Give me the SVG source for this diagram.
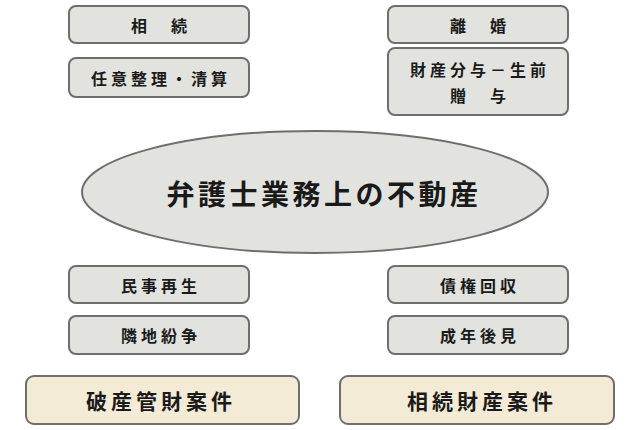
<svg xmlns="http://www.w3.org/2000/svg" width="630" height="430" viewBox="0 0 630 430">
<style>
.box{fill:#e2e3df;stroke:#6e6e6e;stroke-width:2}
.big{fill:#f4ebd6;stroke:#6e6e6e;stroke-width:2}
text{font-family:"Noto Sans CJK JP","Noto Sans CJK SC",sans-serif;font-weight:bold;fill:#1a1a1a;text-anchor:middle;dominant-baseline:central}
.s{font-size:16px;letter-spacing:4px}
.b{font-size:21px;letter-spacing:4px}
.e{font-size:28px;letter-spacing:3.5px}
</style>
<rect width="630" height="430" fill="#ffffff"/>
<g id="connectors"></g>
<g id="n-souzoku"><rect class="box" x="69" y="6" width="180" height="37" rx="7"/><text class="s" x="161" y="25">相　続</text></g>
<g id="n-nini"><rect class="box" x="69" y="58" width="180" height="39" rx="7"/><text class="s" x="161" y="78">任意整理・清算</text></g>
<g id="n-rikon"><rect class="box" x="388" y="6" width="180" height="37" rx="7"/><text class="s" x="480" y="25">離　婚</text></g>
<g id="n-zaisan"><rect class="box" x="388" y="48" width="180" height="67" rx="7"/><text class="s" x="480" y="69">財産分与－生前</text><text class="s" x="480" y="95">贈　与</text></g>
<g id="n-center"><ellipse class="box" cx="315" cy="192" rx="233" ry="61"/><text class="e" x="324" y="193">弁護士業務上の不動産</text></g>
<g id="n-minji"><rect class="box" x="69" y="266" width="180" height="37" rx="7"/><text class="s" x="161" y="285">民事再生</text></g>
<g id="n-rinchi"><rect class="box" x="69" y="316" width="180" height="38" rx="7"/><text class="s" x="161" y="335">隣地紛争</text></g>
<g id="n-saiken"><rect class="box" x="388" y="266" width="180" height="37" rx="7"/><text class="s" x="480" y="285">債権回収</text></g>
<g id="n-seinen"><rect class="box" x="388" y="316" width="180" height="38" rx="7"/><text class="s" x="480" y="335">成年後見</text></g>
<g id="n-hasan"><rect class="big" x="26" y="376" width="273" height="48" rx="8"/><text class="b" x="161" y="400">破産管財案件</text></g>
<g id="n-souzokuzaisan"><rect class="big" x="340" y="376" width="274" height="48" rx="8"/><text class="b" x="482" y="400">相続財産案件</text></g>
</svg>
